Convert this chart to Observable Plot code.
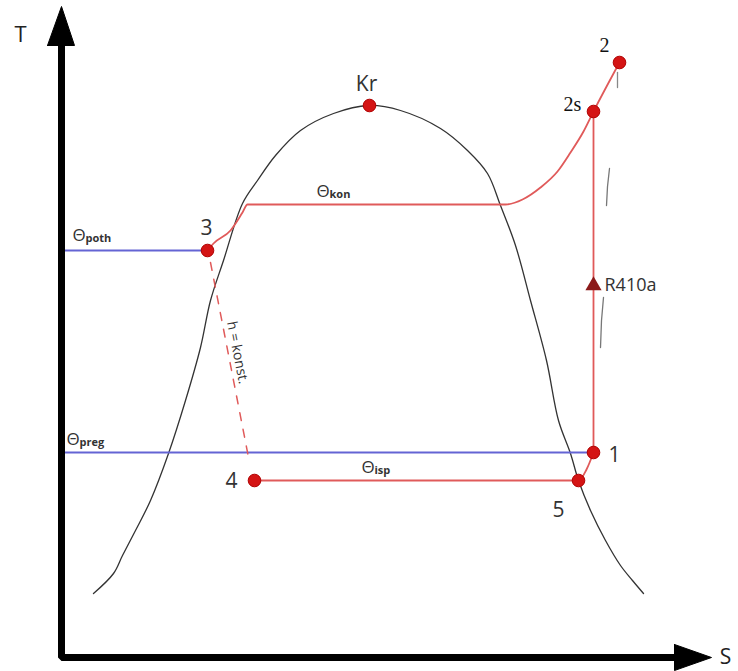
<!DOCTYPE html>
<html><head><meta charset="utf-8">
<script src="https://cdn.jsdelivr.net/npm/d3@7"></script>
<script src="https://cdn.jsdelivr.net/npm/@observablehq/plot@0.6"></script>
<style>html,body{margin:0;padding:0;background:#fff;overflow:hidden}svg{display:block}</style>
</head><body><div id="chart"></div>
<script>
// Saturation dome (s, T)
const domeS = [93,113,122,135,150,168,185,200,210,223,242,257,275,300,333,368,400,440,467,487,500,515,530,546,558,570,578,590,605,620,632,643];
const domeT = [78,98,116,141,171,218,271,324,371,411,468,491,516,541,558,566,561,543,521,498,466,426,371,311,251,218,191,161,131,106,91,78];
// Condensation path 3 -> 2s -> 2
const condS = [207,213,230,242,247,505,522,540,557,570,583,593,619];
const condT = [421,428,441,459,467,467,472,484,500,519,540,560,609];
// Evaporation 4 -> 5 -> 1
const evapS = [254,578,586,593];
const evapT = [191,191,202,219];
// Compression 1 -> 2s (isentropic)
const compS = [593,593];
const compT = [219,560];
// Throttling 3 -> 4 (h = konst.)
const throtS = [210,249];
const throtT = [409,209];
// Blue temperature levels
const pothS = [61,207], pothT = [421,421];
const pregS = [61,593], pregT = [219,219];
// State points
const ptName = ["Kr","2","2s","3","4","5","1"];
const ptS = [369,619,593,207,254,578,593];
const ptT = [566,609,560,421,191,191,219];
// Label anchors
const sansLab = ["Kr","3","4","5","1"];
const sansLabS = [366,206,231,558,614];
const sansLabT = [587,443,190,161,216];
const serifLab = ["2","2s"];
const serifLabS = [604,572];
const serifLabT = [626,567];
const thetaSub = ["poth","kon","preg","isp"];
const thetaS = [72,316,66,361];
const thetaT = [436,480,232,204];
// Refrigerant marker
const refName = "R410a";
const refS = 593, refT = 386;
// Axes
const axisS = [61,61,680];
const axisT = [630,14,14];
const yHeadS = [47,61,74,47], yHeadT = [626,665,626,626];
const xHeadS = [674,711,674,674], xHeadT = [27,14,1,27];
// Hand-drawn pencil marks
const penA_S = [609,607,606], penA_T = [503,485,466];
const penB_S = [603,601,600], penB_T = [374,351,324];
const penC_S = [617,617], penC_T = [599,584];

const zip = (S,T) => S.map((s,i)=>({s, T:T[i]}));

const red = "#e05a5a";
const blue = "#6464d4";
const sans = "'Open Sans', 'DejaVu Sans', sans-serif";
const serif = "'Liberation Serif', 'DejaVu Serif', serif";

const chart = Plot.plot({
  width: 738, height: 671,
  margin: 0,
  x: {domain: [0,738], axis: null},
  y: {domain: [0,671], axis: null},
  style: {background: "#fff"},
  marks: [
    Plot.line(zip(domeS,domeT), {x:"s", y:"T", curve:"catmull-rom", stroke:"#333", strokeWidth:1.3}),
    Plot.line(zip(pothS,pothT), {x:"s", y:"T", stroke:blue, strokeWidth:1.8}),
    Plot.line(zip(pregS,pregT), {x:"s", y:"T", stroke:blue, strokeWidth:1.8}),
    Plot.line(zip(condS,condT), {x:"s", y:"T", curve:"monotone-x", stroke:red, strokeWidth:1.8}),
    Plot.line(zip(evapS,evapT), {x:"s", y:"T", curve:"monotone-x", stroke:red, strokeWidth:1.8}),
    Plot.line(zip(compS,compT), {x:"s", y:"T", stroke:red, strokeWidth:1.8}),
    Plot.line(zip(throtS,throtT), {x:"s", y:"T", stroke:red, strokeWidth:1.5, strokeDasharray:"8,9"}),
    Plot.line(zip(penA_S,penA_T), {x:"s", y:"T", stroke:"#777", strokeWidth:1.3}),
    Plot.line(zip(penB_S,penB_T), {x:"s", y:"T", stroke:"#777", strokeWidth:1.3}),
    Plot.line(zip(penC_S,penC_T), {x:"s", y:"T", stroke:"#888", strokeWidth:1.3}),
    Plot.line(zip(axisS,axisT), {x:"s", y:"T", stroke:"#000", strokeWidth:7, strokeLinejoin:"miter", strokeLinecap:"square"}),
    Plot.line(zip(yHeadS,yHeadT), {x:"s", y:"T", fill:"#000", stroke:"#000", strokeWidth:1}),
    Plot.line(zip(xHeadS,xHeadT), {x:"s", y:"T", fill:"#000", stroke:"#000", strokeWidth:1}),
    Plot.dot(ptName, {x:(d,i)=>ptS[i], y:(d,i)=>ptT[i], r:6.3, fill:"#d41414", stroke:"#b00000", strokeWidth:1}),
    Plot.dot([refName], {x:()=>refS, y:()=>refT, symbol:"triangle", r:6, fill:"#8b1a1a"}),
    Plot.text([refName], {x:()=>refS, y:()=>refT, text:d=>d, dx:11, textAnchor:"start", fontSize:18, fontFamily:sans, fill:"#333"}),
    Plot.text(sansLab, {x:(d,i)=>sansLabS[i], y:(d,i)=>sansLabT[i], text:d=>d, fontSize:21, fontFamily:sans, fill:"#333"}),
    Plot.text(serifLab, {x:(d,i)=>serifLabS[i], y:(d,i)=>serifLabT[i], text:d=>d, fontSize:20, fontFamily:serif, fill:"#111"}),
    Plot.text(thetaSub, {x:(d,i)=>thetaS[i], y:(d,i)=>thetaT[i], text:()=>"Θ", textAnchor:"start", fontSize:17, fontFamily:sans, fill:"#333"}),
    Plot.text(thetaSub, {x:(d,i)=>thetaS[i], y:(d,i)=>thetaT[i], text:d=>d, dx:13, dy:3, textAnchor:"start", fontSize:11, fontWeight:"bold", fontFamily:sans, fill:"#333"}),
    Plot.text(["h = konst."], {x:()=>237, y:()=>319, text:d=>d, rotate:79, fontSize:14, fontFamily:sans, fill:"#333"}),
    Plot.text(["T"], {x:()=>20, y:()=>637, text:d=>d, fontSize:22, fontFamily:sans, fill:"#222"}),
    Plot.text(["S"], {x:()=>725, y:()=>14, text:d=>d, fontSize:21, fontFamily:sans, fill:"#222"})
  ]
});
document.getElementById("chart").appendChild(chart);
</script>
</body></html>
